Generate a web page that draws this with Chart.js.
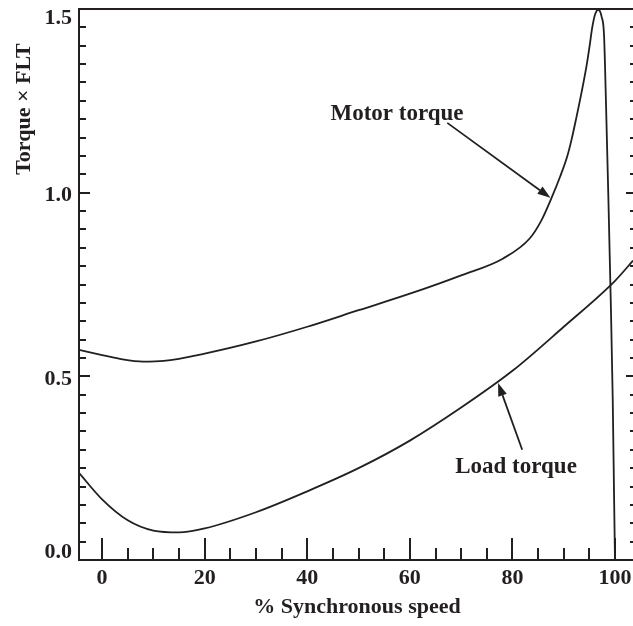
<!DOCTYPE html>
<html>
<head>
<meta charset="utf-8">
<script src="https://cdn.jsdelivr.net/npm/chart.js@4.4.1/dist/chart.umd.min.js"></script>
<style>
  html, body { margin: 0; padding: 0; background: #fff; }
  #wrap { width: 633px; height: 626px; }
</style>
</head>
<body>
<div id="wrap"><canvas id="torqueChart" width="633" height="626"></canvas></div>
<script>
// speed in % of synchronous speed, torque as multiple of full-load torque
const motorSpeed = [-4.5, 0, 4, 8, 12, 20, 30, 40, 50, 60, 70, 78.2, 83.4, 85.7, 87.6, 89.3, 90.7, 91.5, 92.5, 93.5, 94.5, 95.1, 95.5, 96.1, 96.75, 97.4, 97.85, 98.22, 98.71, 99.16, 99.55, 99.82, 99.98];
const motorTorque = [0.572, 0.558, 0.546, 0.54, 0.542, 0.562, 0.595, 0.635, 0.68, 0.725, 0.775, 0.821, 0.876, 0.926, 0.985, 1.044, 1.1, 1.143, 1.207, 1.275, 1.35, 1.405, 1.445, 1.485, 1.498, 1.478, 1.43, 1.252, 0.98, 0.708, 0.436, 0.163, 0.008];

const loadSpeed = [-4.5, 0, 5, 10, 15, 20, 30, 40, 50, 60, 70, 80, 90, 100, 103.5];
const loadTorque = [0.237, 0.165, 0.108, 0.08, 0.075, 0.086, 0.13, 0.187, 0.25, 0.325, 0.415, 0.515, 0.635, 0.76, 0.815];

const xTicks = [0, 20, 40, 60, 80, 100];
const xTickLabels = ['0', '20', '40', '60', '80', '100'];
const yTicks = [0, 0.5, 1.0, 1.5];
const yTickLabels = ['0.0', '0.5', '1.0', '1.5'];

const xTitle = '% Synchronous speed';
const yTitle = 'Torque \u00d7 FLT';

const INK = '#231f20';
const FONT = 'bold 22px "Liberation Serif", "Times New Roman", serif';

function toPoints(xs, ys) {
  return xs.map((x, i) => ({ x, y: ys[i] }));
}

function arrow(ctx, x1, y1, x2, y2) {
  const ang = Math.atan2(y2 - y1, x2 - x1);
  const len = 13, half = 4.5;
  const bx = x2 - Math.cos(ang) * len, by = y2 - Math.sin(ang) * len;
  ctx.beginPath();
  ctx.moveTo(x1, y1);
  ctx.lineTo(bx, by);
  ctx.stroke();
  ctx.beginPath();
  ctx.moveTo(x2, y2);
  ctx.lineTo(bx + Math.sin(ang) * half, by - Math.cos(ang) * half);
  ctx.lineTo(bx - Math.sin(ang) * half, by + Math.cos(ang) * half);
  ctx.closePath();
  ctx.fill();
}

// frame, inward ticks, labels and callouts
const axesPlugin = {
  id: 'bookAxes',
  afterDatasetsDraw(chart) {
    const { ctx, chartArea: a, scales: { x, y } } = chart;
    ctx.save();
    ctx.strokeStyle = INK;
    ctx.fillStyle = INK;
    ctx.lineWidth = 2;

    // frame (right edge sits just off the canvas)
    ctx.beginPath();
    ctx.moveTo(a.right + 2, a.top);
    ctx.lineTo(a.left, a.top);
    ctx.lineTo(a.left, a.bottom);
    ctx.lineTo(a.right + 2, a.bottom);
    ctx.stroke();

    // y ticks every 0.05, left and right
    for (let i = 1; i < 30; i++) {
      const v = i * 0.05;
      const py = Math.round(y.getPixelForValue(v));
      const major = i % 10 === 0;
      ctx.beginPath();
      ctx.moveTo(a.left, py);
      ctx.lineTo(a.left + (major ? 11 : 7), py);
      ctx.moveTo(a.right, py);
      ctx.lineTo(a.right - (major ? 7 : 3), py);
      ctx.stroke();
    }

    // x ticks every 5 %
    for (let s = 0; s <= 100; s += 5) {
      const px = Math.round(x.getPixelForValue(s));
      const major = s % 20 === 0;
      ctx.beginPath();
      ctx.moveTo(px, a.bottom);
      ctx.lineTo(px, a.bottom - (major ? 22 : 12));
      ctx.stroke();
    }

    ctx.font = FONT;
    ctx.textBaseline = 'middle';

    ctx.textAlign = 'right';
    yTicks.forEach((v, i) => {
      const py = Math.min(Math.max(y.getPixelForValue(v) + 3, a.top + 9), a.bottom - 8);
      ctx.fillText(yTickLabels[i], a.left - 7, py);
    });

    ctx.textAlign = 'center';
    xTicks.forEach((v, i) => {
      ctx.fillText(xTickLabels[i], x.getPixelForValue(v), a.bottom + 18);
    });

    ctx.fillText(xTitle, (a.left + a.right) / 2 + 1, a.bottom + 47);

    ctx.save();
    ctx.translate(24, 109);
    ctx.rotate(-Math.PI / 2);
    ctx.fillText(yTitle, 0, 0);
    ctx.restore();

    // callouts
    ctx.font = 'bold 23px "Liberation Serif", "Times New Roman", serif';
    ctx.fillText('Motor torque', x.getPixelForValue(57.5), y.getPixelForValue(1.215));
    ctx.fillText('Load torque', x.getPixelForValue(80.7), y.getPixelForValue(0.253));

    ctx.lineWidth = 1.8;
    arrow(ctx, x.getPixelForValue(67.3), y.getPixelForValue(1.19),
               x.getPixelForValue(87.4), y.getPixelForValue(0.986));
    arrow(ctx, x.getPixelForValue(81.9), y.getPixelForValue(0.3),
               x.getPixelForValue(77.2), y.getPixelForValue(0.482));

    ctx.restore();
  }
};

const ctx = document.getElementById('torqueChart').getContext('2d');
new Chart(ctx, {
  type: 'scatter',
  data: {
    datasets: [
      {
        label: 'Motor torque',
        data: toPoints(motorSpeed, motorTorque),
        showLine: true,
        borderColor: INK,
        borderWidth: 1.8,
        pointRadius: 0,
        cubicInterpolationMode: 'monotone'
      },
      {
        label: 'Load torque',
        data: toPoints(loadSpeed, loadTorque),
        showLine: true,
        borderColor: INK,
        borderWidth: 1.8,
        pointRadius: 0,
        cubicInterpolationMode: 'monotone'
      }
    ]
  },
  options: {
    responsive: false,
    animation: false,
    devicePixelRatio: 1,
    layout: { padding: { left: 79, top: 9, right: 0, bottom: 66 } },
    plugins: {
      legend: { display: false },
      tooltip: { enabled: false }
    },
    scales: {
      x: { type: 'linear', min: -4.5, max: 103.5, display: false },
      y: { type: 'linear', min: 0, max: 1.5, display: false }
    }
  },
  plugins: [axesPlugin]
});
</script>
</body>
</html>
